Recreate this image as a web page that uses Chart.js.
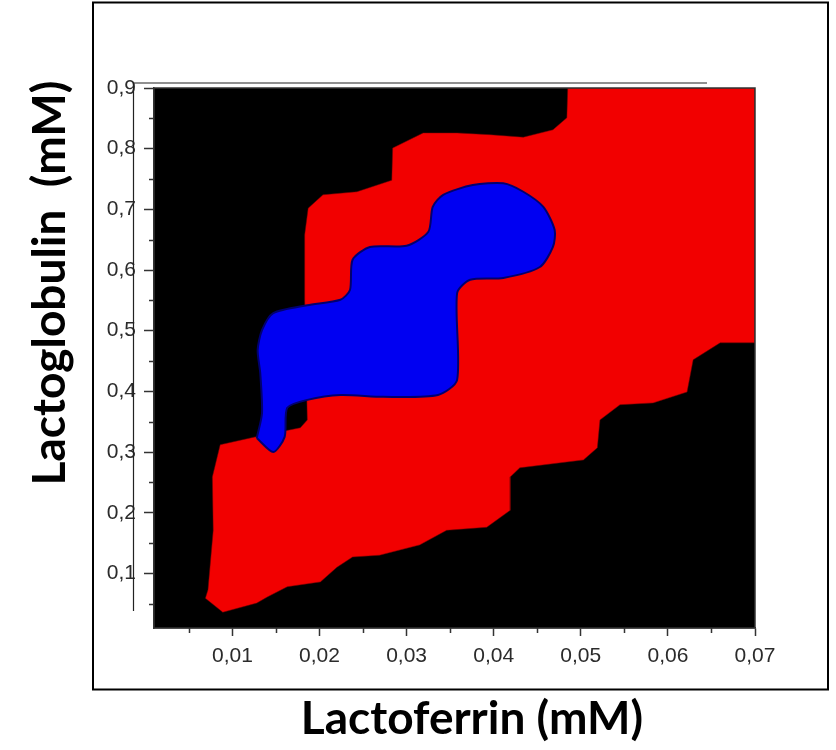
<!DOCTYPE html>
<html>
<head>
<meta charset="utf-8">
<script src="https://cdn.jsdelivr.net/npm/chart.js@4.4.1/dist/chart.umd.min.js"></script>
<style>
  body { margin: 0; background: #fff; }
  #wrap { position: relative; width: 836px; height: 750px; }
</style>
</head>
<body>
<div id="wrap"><canvas id="chart"></canvas></div>
<script>
// axis ticks
const xTicks = [0.01, 0.02, 0.03, 0.04, 0.05, 0.06, 0.07];
const xTickLabels = ["0,01", "0,02", "0,03", "0,04", "0,05", "0,06", "0,07"];
const xMinorTicks = [0.005, 0.015, 0.025, 0.035, 0.045, 0.055, 0.065];
const yTicks = [0.1, 0.2, 0.3, 0.4, 0.5, 0.6, 0.7, 0.8, 0.9];
const yTickLabels = ["0,1", "0,2", "0,3", "0,4", "0,5", "0,6", "0,7", "0,8", "0,9"];
const yMinorTicks = [0.05, 0.15, 0.25, 0.35, 0.45, 0.55, 0.65, 0.75, 0.85];

// red contour level (outline)
const redX = [0.0485, 0.070, 0.070, 0.0660, 0.0629, 0.0622, 0.0583, 0.0545, 0.0522, 0.0519,
  0.0503, 0.0430, 0.0419, 0.0419, 0.0392, 0.0346, 0.0315, 0.0269, 0.0238, 0.0220,
  0.0201, 0.0163, 0.0140, 0.0128, 0.0089, 0.0069, 0.0072, 0.0078, 0.0077, 0.0086,
  0.0126, 0.0178, 0.0186, 0.0183, 0.0183, 0.0187, 0.0204, 0.0243, 0.0283, 0.0284,
  0.0319, 0.0358, 0.0396, 0.0434, 0.0468, 0.0484];
const redY = [0.900, 0.900, 0.480, 0.480, 0.452, 0.399, 0.381, 0.378, 0.353, 0.307,
  0.287, 0.274, 0.259, 0.204, 0.176, 0.171, 0.147, 0.130, 0.127, 0.110,
  0.086, 0.078, 0.061, 0.051, 0.036, 0.059, 0.073, 0.171, 0.259, 0.312,
  0.325, 0.340, 0.353, 0.551, 0.658, 0.702, 0.724, 0.729, 0.748, 0.801,
  0.826, 0.826, 0.823, 0.819, 0.831, 0.851];

// blue contour level
const blueX = [0.0128, 0.0147, 0.0160, 0.0163, 0.0186, 0.0224, 0.0273, 0.0336, 0.0358, 0.0358,
  0.0373, 0.0411, 0.0453, 0.0468, 0.0470, 0.0457, 0.0434, 0.0411, 0.0376, 0.0342,
  0.0330, 0.0325, 0.0300, 0.0258, 0.0238, 0.0235, 0.0224, 0.0186, 0.0147, 0.0134,
  0.0129, 0.0132, 0.0134];
const blueY = [0.323, 0.300, 0.325, 0.373, 0.386, 0.394, 0.391, 0.394, 0.419, 0.562,
  0.584, 0.587, 0.605, 0.638, 0.666, 0.704, 0.729, 0.743, 0.740, 0.724,
  0.704, 0.663, 0.640, 0.638, 0.617, 0.567, 0.551, 0.542, 0.529, 0.501,
  0.468, 0.430, 0.364];

const xTitle = "Lactoferrin (mM)";
const yTitle = "Lactoglobulin  (mM)";

function toPolygon(xs, ys) {
  const pts = xs.map((x, i) => ({ x: x, y: ys[i] }));
  pts.push({ x: xs[0], y: ys[0] });
  return pts;
}

const decor = {
  id: "decor",
  beforeDatasetsDraw(chart) {
    const { ctx, chartArea: a } = chart;
    ctx.save();
    ctx.fillStyle = "#000";
    ctx.fillRect(a.left, a.top, a.right - a.left, a.bottom - a.top);
    ctx.restore();
  },
  afterDraw(chart) {
    const { ctx, chartArea: a } = chart;
    const xs = chart.scales.x, ys = chart.scales.y;
    ctx.save();
    // plot box
    ctx.strokeStyle = "#333";
    ctx.lineWidth = 1.5;
    ctx.strokeRect(a.left, a.top, a.right - a.left, a.bottom - a.top);
    // minor ticks
    ctx.beginPath();
    xMinorTicks.forEach((v) => {
      const px = Math.round(xs.getPixelForValue(v)) + 0.5;
      ctx.moveTo(px, a.bottom);
      ctx.lineTo(px, a.bottom + 5);
    });
    yMinorTicks.forEach((v) => {
      const py = Math.round(ys.getPixelForValue(v)) + 0.5;
      ctx.moveTo(a.left, py);
      ctx.lineTo(a.left - 5, py);
    });
    ctx.stroke();
    // stray scan lines from the original figure
    ctx.strokeStyle = "#222";
    ctx.lineWidth = 1.2;
    ctx.beginPath();
    ctx.moveTo(133, 83);
    ctx.lineTo(707, 83);
    ctx.moveTo(133.5, 83);
    ctx.lineTo(133.5, 611);
    ctx.stroke();
    // outer frame
    ctx.strokeStyle = "#000";
    ctx.lineWidth = 2;
    ctx.strokeRect(93, 2.5, 735, 687);
    // axis titles
    ctx.fillStyle = "#000";
    ctx.font = "bold 46px Lato";
    ctx.textAlign = "center";
    ctx.textBaseline = "middle";
    ctx.fillText(xTitle, 472, 719);
    ctx.translate(50, 283);
    ctx.rotate(-Math.PI / 2);
    ctx.fillText(yTitle, 0, 0);
    ctx.restore();
  }
};

Chart.defaults.font.family = '"Liberation Sans", Arial, sans-serif';

new Chart(document.getElementById("chart"), {
  type: "scatter",
  data: {
    datasets: [
      {
        label: "blue",
        data: toPolygon(blueX, blueY),
        showLine: true,
        fill: "shape",
        backgroundColor: "#0000f2",
        borderColor: "#000070",
        borderWidth: 2,
        tension: 0.25,
        pointRadius: 0
      },
      {
        label: "red",
        data: toPolygon(redX, redY),
        showLine: true,
        fill: "shape",
        backgroundColor: "#f20000",
        borderColor: "rgba(110,0,0,0.5)",
        borderWidth: 1,
        tension: 0,
        pointRadius: 0
      }
    ]
  },
  options: {
    responsive: true,
    maintainAspectRatio: false,
    animation: false,
    layout: { padding: { top: 88, right: 81, bottom: 0, left: 0 } },
    plugins: {
      legend: { display: false },
      tooltip: { enabled: false }
    },
    scales: {
      x: {
        type: "linear",
        min: 0.001,
        max: 0.07,
        afterFit: (scale) => { scale.height = 122; },
        afterBuildTicks: (scale) => { scale.ticks = xTicks.map((v) => ({ value: v })); },
        ticks: {
          callback: (value, index) => xTickLabels[index],
          color: "#2b2b2b",
          font: { size: 21 },
          padding: 8,
          maxRotation: 0,
          autoSkip: false
        },
        grid: { drawOnChartArea: false, tickLength: 8, tickColor: "#333", tickWidth: 1.5 },
        border: { color: "#333", width: 1.5 }
      },
      y: {
        type: "linear",
        min: 0.01,
        max: 0.9,
        afterFit: (scale) => { scale.width = 154; },
        afterBuildTicks: (scale) => { scale.ticks = yTicks.map((v) => ({ value: v })); },
        ticks: {
          callback: (value, index) => yTickLabels[index],
          color: "#2b2b2b",
          font: { size: 21 },
          padding: 8,
          autoSkip: false
        },
        grid: { drawOnChartArea: false, tickLength: 10, tickColor: "#333", tickWidth: 1.5 },
        border: { color: "#333", width: 1.5 }
      }
    }
  },
  plugins: [decor]
});
</script>
</body>
</html>
